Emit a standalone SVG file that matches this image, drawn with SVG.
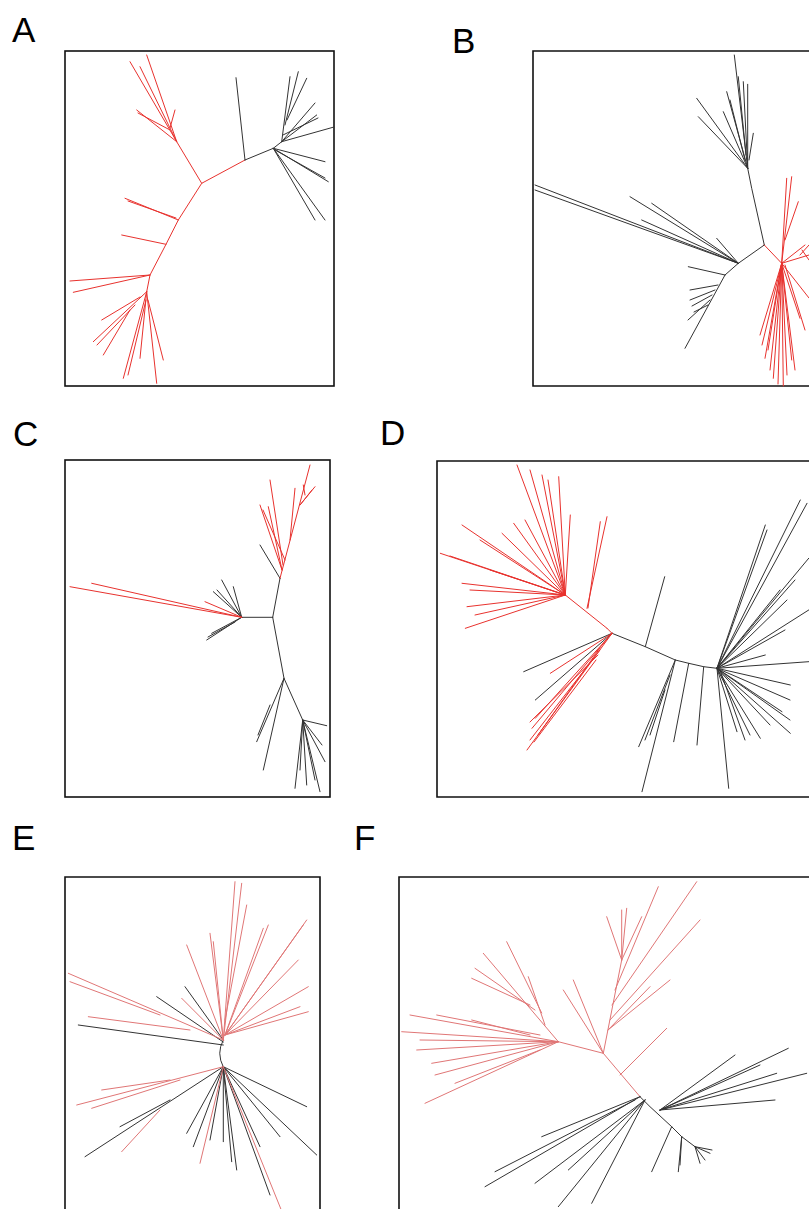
<svg xmlns="http://www.w3.org/2000/svg" width="809" height="1209" viewBox="0 0 809 1209">
<style>
.lbl{font-family:"Liberation Sans",Arial,sans-serif;font-size:35px;fill:#000}
.frame{fill:none;stroke:#111;stroke-width:1.6}
.r{fill:none;stroke:#e8322e;stroke-width:1;stroke-linecap:round}
.p{fill:none;stroke:#e07676;stroke-width:1;stroke-linecap:round}
.k{fill:none;stroke:#333;stroke-width:1;stroke-linecap:round}
</style>
<rect width="809" height="1209" fill="#fff"/>
<g id="labels">
<text class="lbl" x="12" y="42">A</text>
<text class="lbl" x="452" y="53">B</text>
<text class="lbl" x="13" y="446">C</text>
<text class="lbl" x="380" y="445">D</text>
<text class="lbl" x="12" y="850">E</text>
<text class="lbl" x="354" y="850">F</text>
</g>
<g id="panelA">
<rect class="frame" x="65" y="51" width="269" height="335"/>
<path class="r" d="M245,160 L201.7,183.3 L178.3,220 L166,244.3 L150,275 L146.7,291.7 M201.7,183.3 L176.7,141.7 M176.7,141.7 L130,61.7 M176.7,141.7 L146.7,55 M176.7,141.7 L140,66.7 M176.7,141.7 L136.7,110 M170,130 L138,113 M170,128 L175,110 M178.3,220 L125,198.3 M176,218 L128,201 M166,244.3 L121.7,235 M150,275 L70,281 M150,275 L73.3,292.3 M146.7,291.7 L93.3,341.7 M140,297 L101.7,320 M130,310 L103.3,355 M135,305 L97,345 M146.7,291.7 L123.3,378.3 M146.7,291.7 L140,358.3 M146.7,291.7 L156.7,383.3 M148,300 L163.3,360 M146,300 L128,375"/>
<path class="k" d="M245,160 L273.3,148.3 L281.7,141.7 M245,160 L236,77.7 M281.7,141.7 L290,76.7 M285,125 L298.3,71.7 M287,120 L306.7,78.3 M281.7,141.7 L315,103 M281.7,141.7 L316.7,115 M281.7,141.7 L334,127 M283,135 L318,118 M273.3,148.3 L325,161.7 M273.3,148.3 L328.3,181.7 M275,150 L325,178 M273.3,148.3 L325,220 M273.3,148.3 L315,220"/>
</g>
<g id="panelB">
<path class="frame" d="M809,51 H533 V386 H809"/>
<path class="k" d="M764.3,245 L751.7,188.3 L747.7,168.3 M747.7,168.3 L734.3,55 M746,155 L738.3,76.7 M747.7,168.3 L743.3,81.7 M747.7,168.3 L747.7,84.3 M749,160 L753.3,133.3 M747.7,168.3 L696.7,98.3 M747.7,168.3 L726.7,91.7 M747.7,168.3 L723.3,111.7 M747.7,168.3 L698.3,116.7 M745,160 L730,100 M764.3,245 L738.3,263.3 L725,275 M738.3,263.3 L535,185 M738.3,263.3 L535,190 M738.3,263.3 L630,196.7 M738.3,263.3 L651.7,203.3 M738.3,263.3 L641.7,220 M738.3,263.3 L716.7,238.3 M725,275 L688.3,266.7 M725,275 L685,348.3 M718,285 L690,290 M715,290 L690,300 M712,295 L692,306 M710,300 L688,320 M708,305 L694,312"/>
<path class="r" d="M764.3,245 L781.7,263.3 L809,255 M781.7,263.3 L791.7,176.7 M781.7,263.3 L786.7,178.3 M785,240 L798.3,201.7 M781.7,263.3 L805,245 M800,255 L809,245 M802,250 L809,260 M781.7,263.3 L760,335 M781.7,263.3 L765,358.3 M781.7,263.3 L773.3,378.3 M781.7,263.3 L783.3,386 M781.7,263.3 L791.7,360 M781.7,263.3 L800,318.3 M781.7,263.3 L809,298 M781.7,263.3 L770,370 M781.7,263.3 L778,384 M781.7,263.3 L795,370 M781.7,263.3 L762,345 M785,265 L805,330 M781.7,263.3 L768,350 M781.7,263.3 L787,375"/>
</g>
<g id="panelC">
<rect class="frame" x="65" y="460" width="265" height="337"/>
<path class="k" d="M272.7,617.3 L280,578.3 M272.7,617.3 L241.7,617.3 M272.7,617.3 L284,678.3 L302.7,720 M280,578.3 L260,545 M241.7,617.3 L213.3,591.7 M241.7,617.3 L221.7,580 M241.7,617.3 L233.3,586.7 M241.7,617.3 L217,590 M241.7,617.3 L206.7,640 M241.7,617.3 L211.7,633.3 M235,622 L208,637 M284,678.3 L256.7,741.7 M284,678.3 L263.3,770 M270,705 L258,735 M302.7,720 L326.7,725.7 M302.7,720 L325,761.7 M302.7,720 L320,791.7 M302.7,720 L295,788.3 M302.7,720 L306.7,785 M302.7,720 L315,780 M302.7,720 L322,745 M302.7,720 L300,770"/>
<path class="r" d="M280,578.3 L310,465 M300,505 L315,486.7 M305,495 L303.3,485 M300,505 L312,490 M290,540 L295,488.3 M283,565 L270,480 M282,570 L260,505 M282,570 L268.3,506.7 M285,560 L263,510 M241.7,617.3 L70,586.7 M241.7,617.3 L91.7,583.3 M241.7,617.3 L205,601.7"/>
</g>
<g id="panelD">
<path class="frame" d="M809,461 H437 V797 H809"/>
<path class="k" d="M612,633.3 L645.3,646.7 L675.3,660 L688.7,663.3 L703.7,666.7 L717,668.3 M612,633.3 L523.7,671.7 M612,633.3 L535.3,700 M645.3,646.7 L664.7,576.7 M675.3,660 L642,791.7 M675.3,660 L638.7,746.7 M670,675 L645,740 M665,690 L650,735 M688.7,663.3 L673.7,741.7 M703.7,666.7 L697,745 M717,668.3 L728.7,788.3 M717,668.3 L800.3,500 M717,668.3 L807,503.3 M717,668.3 L765.3,525 M717,668.3 L767,530 M717,668.3 L808.7,558.3 M717,668.3 L808.7,610 M717,668.3 L787,600 M717,668.3 L808.7,661.7 M717,668.3 L765.3,655 M717,668.3 L790.3,685 M717,668.3 L790.3,733.3 M717,668.3 L760.3,738.3 M717,668.3 L737,731.7 M717,668.3 L782,711.7 M717,668.3 L770,725 M717,668.3 L750,735 M717,668.3 L790,700 M717,668.3 L785,630 M717,668.3 L795,580 M717,668.3 L780,590 M720,670 L745,740 M717,668.3 L790,720"/>
<path class="r" d="M607,628.3 L612,633.3 M607,628.3 L565.3,595 M565.3,595 L517,465 M565.3,595 L542,475 M565.3,595 L558.7,476.7 M565.3,595 L570.3,515 M565.3,595 L462,525 M565.3,595 L440.3,553.3 M565.3,595 L462,583.3 M565.3,595 L467,606.7 M565.3,595 L465.3,628.3 M565.3,595 L502,533.3 M565.3,595 L513.7,523.3 M565.3,595 L530,470 M565.3,595 L548,480 M565.3,595 L480,540 M565.3,595 L470,590 M565.3,595 L490,570 M565.3,595 L450,556 M565.3,595 L475,615 M565.3,595 L525,520 M587,608.3 L607,516.7 M588,608 L600.3,521.7 M612,633.3 L550.3,673.3 M612,633.3 L527,750 M612,633.3 L532,728.3 M612,633.3 L535.3,718.3 M600,650 L530,740 M600,648 L538,735 M598,655 L530,722 M596,660 L534,742"/>
</g>
<g id="panelE">
<path class="frame" d="M65,1209 V877 H320 V1209"/>
<path class="k" d="M223.3,1040 Q216,1053 223.3,1067 M223.3,1045 L78.3,1025 M223.3,1042 L156.7,996.7 M223.3,1040 L185,986.7 M223.3,1066.7 L85,1156.7 M170,1100 L120,1126.7 M223.3,1066.7 L186.7,1133.3 M223.3,1066.7 L193.3,1146.7 M223.3,1066.7 L223.3,1141.7 M223.3,1066.7 L231.7,1161.7 M223.3,1066.7 L236.7,1170 M223.3,1066.7 L270,1195 M223.3,1066.7 L306.7,1106.7 M223.3,1066.7 L316.7,1155 M223.3,1066.7 L280,1136.7 M223.3,1066.7 L260,1146.7 M223.3,1066.7 L210,1140"/>
<path class="p" d="M223.3,1040 L235,881.7 M223.3,1040 L241.7,883.3 M225,1020 L246.7,905 M225,1035 L263.3,928.3 M225,1035 L268.3,925 M225,1035 L306.7,920 M225,1035 L303.3,925 M225,1035 L298.3,960 M225,1035 L308.3,986.7 M225,1035 L300,1006.7 M225,1035 L308.3,1011.7 M223.3,1040 L186.7,945 M223.3,1040 L210,933.3 M223.3,1040 L213.3,941.7 M223.3,1040 L181.7,998.3 M223.3,1040 L68.3,973.3 M160,1015 L70,981.7 M190,1030 L88.3,1016.7 M223.3,1066.7 L76.7,1105 M170,1080 L101.7,1090 M180,1080 L91.7,1108.3 M160,1110 L121.7,1151.7 M223.3,1066.7 L200,1163.3 M223.3,1066.7 L283.3,1215"/>
</g>
<g id="panelF">
<path class="frame" d="M399,1209 V877 H809"/>
<path class="p" d="M640,1096.7 L603.3,1053.3 L558.3,1041.7 M558.3,1041.7 L401.7,1031.7 M558.3,1041.7 L410,1015 M540,1035 L436.7,1015 M558.3,1041.7 L416.7,1050 M558.3,1041.7 L431.7,1063.3 M558.3,1041.7 L425,1103.3 M540,1050 L455,1083.3 M530,1035 L471.7,1020 M558.3,1041.7 L420,1040 M558.3,1041.7 L435,1075 M558.3,1041.7 L483.3,953.3 M535,1010 L475,968.3 M530,1005 L471.7,978.3 M541.7,1013 L506.7,941.7 M545,1025 L528.3,976.7 M603.3,1053.3 L563.3,990 M603.3,1053.3 L573.3,980 M603.3,1053.3 L621.7,960 M621.7,960 L606.7,916.7 M621.7,960 L621.7,910 M621.7,960 L626.7,908.3 M621.7,960 L641.7,916.7 M615,990 L658.3,886.7 M612,1005 L696.7,881.7 M610,1020 L700,920 M608,1030 L670,980 M608,1030 L650,986.7 M620,1075 L666.7,1028.3"/>
<path class="k" d="M640,1096.7 L650,1106.7 L671.7,1126.7 L681.7,1136.7 L695,1146.7 M640,1096.7 L485,1186.7 M635,1100 L495,1171.7 M640,1096.7 L541.7,1136.7 M645,1100 L535,1183.3 M645,1100 L558.3,1206.7 M645,1100 L591.7,1203.3 M645,1100 L568.3,1170 M660,1110 L735,1055 M660,1110 L788.3,1048.3 M660,1110 L806.7,1073.3 M660,1110 L775,1100 M660,1110 L776.7,1073.3 M660,1110 L760,1065 M671.7,1126.7 L651.7,1171.7 M681.7,1136.7 L678.3,1171.7 M681.7,1136.7 L680,1165 M695,1146.7 L710,1153.3 M695,1146.7 L700,1163.3 M695,1146.7 L705,1160 M695,1146.7 L712,1150"/>
</g>
</svg>
